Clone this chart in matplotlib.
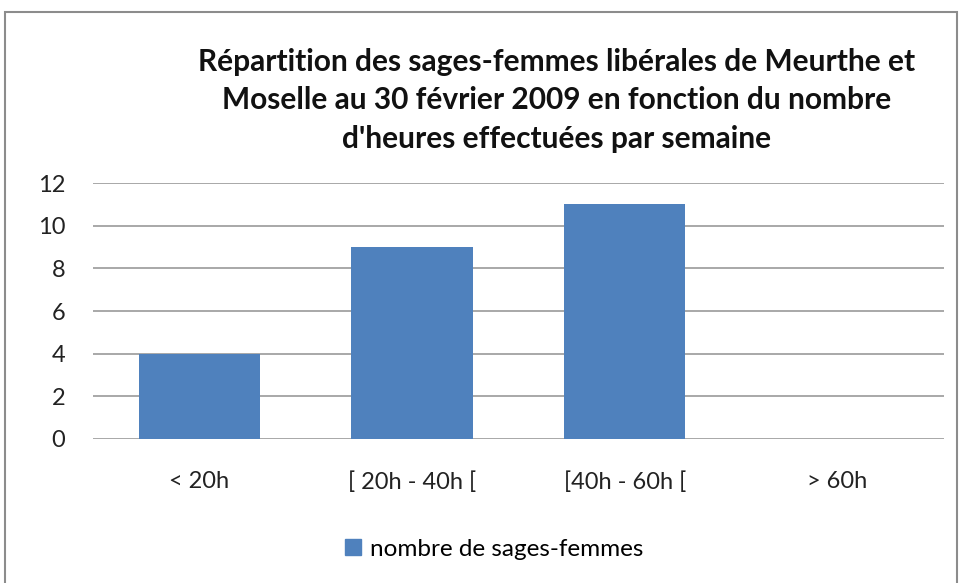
import numpy as np
import matplotlib.pyplot as plt
from matplotlib.patches import Rectangle, Patch

categories = ['< 20h', '[ 20h - 40h [', '[40h - 60h [', '> 60h']
values = [4, 9, 11, 0]
title = ("Répartition des sages-femmes libérales de Meurthe et\n"
         "Moselle au 30 février 2009 en fonction du nombre\n"
         "d'heures effectuées par semaine")
series_name = 'nombre de sages-femmes'

plt.rcParams['font.family'] = ['Lato', 'DejaVu Sans']
bar_color = '#4F81BD'
grid_color = '#9a9a9a'

fig = plt.figure(figsize=(9.6, 5.83), dpi=100)
ax = fig.add_axes([0.097, 0.247, 0.886, 0.439])

x = np.arange(len(categories))
ax.bar(x, values, width=0.57, color=bar_color, zorder=3)

ax.set_xlim(-0.5, len(categories) - 0.5)
ax.set_ylim(0, 12)
ax.set_yticks(range(0, 13, 2))
ax.set_xticks(x)
ax.set_xticklabels(categories)
ax.tick_params(length=0, labelsize=17, colors='#222222', pad=23)
ax.tick_params(axis='y', pad=20)
ax.yaxis.grid(True, color=grid_color, linewidth=1.2)
ax.set_axisbelow(True)
for s in ax.spines.values():
    s.set_visible(False)

fig.text(0.58, 0.918, title, ha='center', va='top', fontsize=21.5,
         fontweight='bold', linespacing=1.45, color='#111111')

fig.legend(handles=[Patch(color=bar_color, label=series_name)],
           loc='center', bbox_to_anchor=(0.515, 0.058), frameon=False,
           fontsize=17.5, handlelength=0.65, handleheight=0.65, handletextpad=0.4)

# outer chart frame
fig.patches.append(Rectangle((5 / 960, -0.01), 952 / 960, 1 - 12 / 583 + 0.01,
                             transform=fig.transFigure, fill=False,
                             edgecolor='#8c8c8c', linewidth=1.5))

fig.savefig('out.png', dpi=100)
